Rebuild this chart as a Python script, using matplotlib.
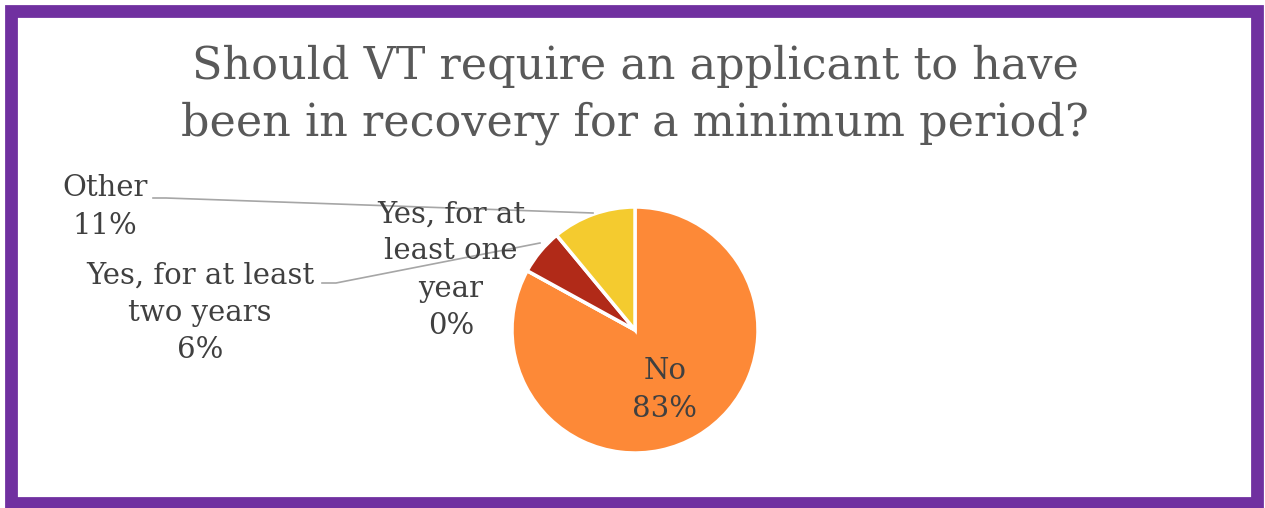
import matplotlib
matplotlib.use('Agg')
import matplotlib.pyplot as plt
from matplotlib.patches import Rectangle

# Survey answers (share of respondents, %)
categories = ['No', 'Yes, for at least one year', 'Yes, for at least two years', 'Other']
shares = [83, 0, 6, 11]
label_texts = ['No\n83%', 'Yes, for at\nleast one\nyear\n0%', 'Yes, for at least\ntwo years\n6%', 'Other\n11%']
colors = ['#FD8937', '#F4CB2F', '#B12A18', '#F4CB2F']

W, H = 1265, 508
fig = plt.figure(figsize=(W / 100, H / 100), dpi=100)
ax = fig.add_axes([0, 0, 1, 1])

serif = ['DejaVu Serif']

# pie in pixel units (y upward)
cx, cy, r = 635, H - 330, 123
wedges, _ = ax.pie(shares, startangle=90, counterclock=False, colors=colors,
                   center=(cx, cy), radius=r,
                   wedgeprops=dict(edgecolor='white', linewidth=2.5))
ax.set_xlim(0, W)
ax.set_ylim(0, H)
ax.set_aspect('equal')
ax.axis('off')

# purple frame
fig.patches.append(Rectangle((11 / W, 5.5 / H), 1246 / W, 492 / H, transform=fig.transFigure,
                             fill=False, edgecolor='#7030A0', linewidth=9.2))

ax.text(cx, H - 95, 'Should VT require an applicant to have\nbeen in recovery for a minimum period?',
        ha='center', va='center', fontsize=32, color='#595959', family=serif,
        linespacing=1.38)

txt = dict(ha='center', va='center', fontsize=21, color='#404040', family=serif, linespacing=1.42)
ax.text(665, H - 390, label_texts[0], **txt)
ax.text(451, H - 270, label_texts[1], **txt)
ax.text(200, H - 313, label_texts[2], **txt)
ax.text(105, H - 207, label_texts[3], **txt)

# leader lines to the two small slices
line = dict(color='#A6A6A6', linewidth=1.2)
ax.plot([322, 336, 540], [H - 283, H - 283, H - 243], **line)
ax.plot([153, 166, 593], [H - 198, H - 198, H - 213], **line)

fig.savefig('out.png', dpi=100)
